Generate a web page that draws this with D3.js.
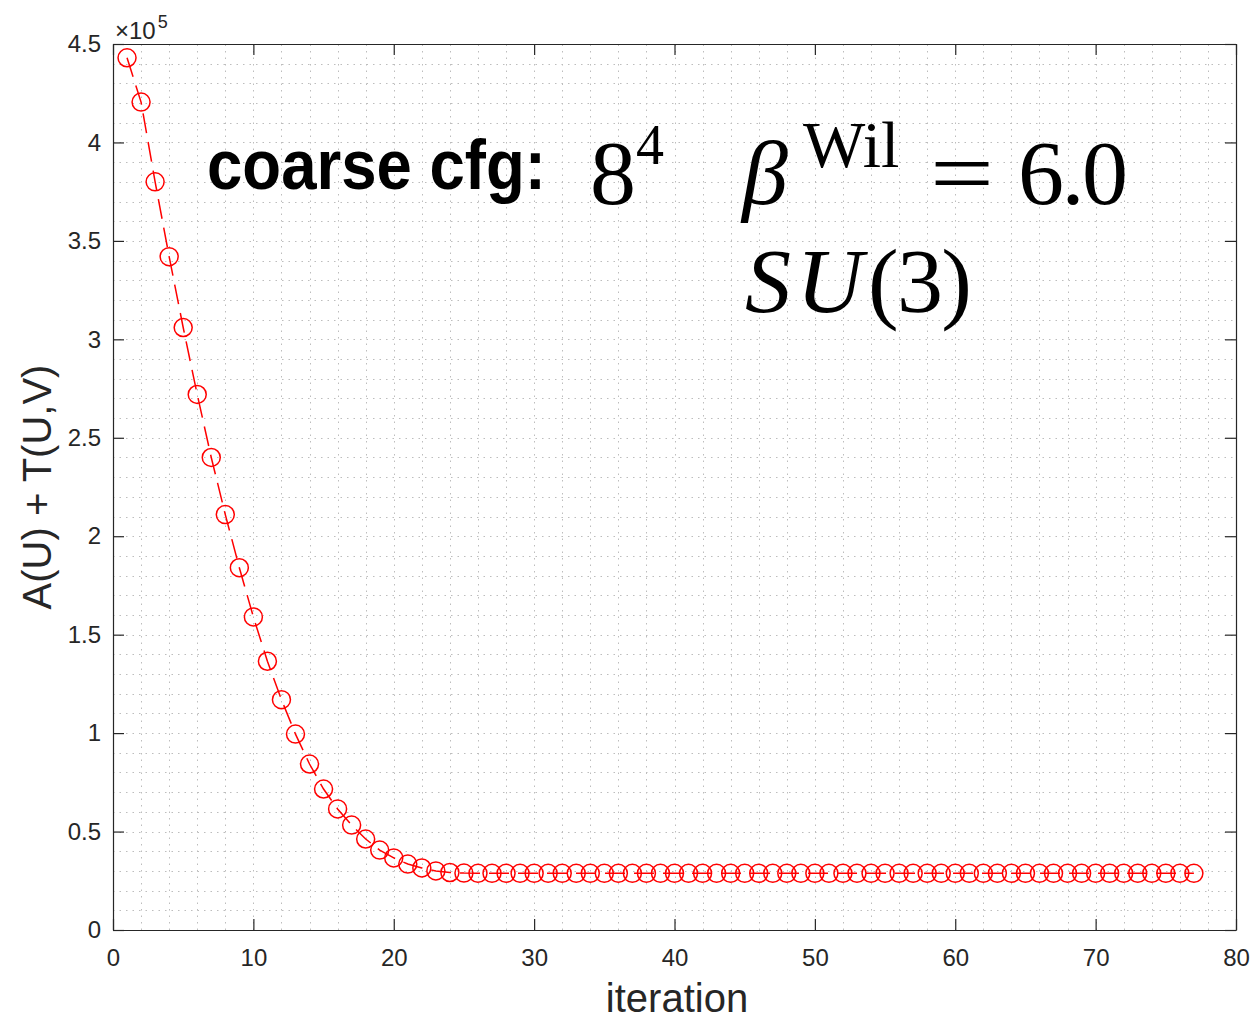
<!DOCTYPE html>
<html>
<head>
<meta charset="utf-8">
<script src="https://cdn.jsdelivr.net/npm/d3@7"></script>
<style>
  html, body { margin: 0; padding: 0; background: #fff; }
  svg { display: block; }
</style>
</head>
<body>
<svg id="chart" width="1252" height="1022"></svg>
<script>
// ---------------------------------------------------------------------------
// data: objective A(U)+T(U,V) per iteration (iteration = index + 1)
// ---------------------------------------------------------------------------
const objective = [
    443000, 420500, 380000, 342000, 306000, 272000, 240000, 211000, 184000, 159000,
    136500, 117000, 99500, 84300, 71600, 61500, 53300, 46200, 40600, 36600,
    33500, 31500, 30000, 29200, 28900, 28800, 28800, 28800, 28800, 28800,
    28800, 28800, 28800, 28800, 28800, 28800, 28800, 28800, 28800, 28800,
    28800, 28800, 28800, 28800, 28800, 28800, 28800, 28800, 28800, 28800,
    28800, 28800, 28800, 28800, 28800, 28800, 28800, 28800, 28800, 28800,
    28800, 28800, 28800, 28800, 28800, 28800, 28800, 28800, 28800, 28800,
    28800, 28800, 28800, 28800, 28800, 28800, 28800
];
const xTicks = [0, 10, 20, 30, 40, 50, 60, 70, 80];
const xMinorTicks = [2, 4, 6, 8, 12, 14, 16, 18, 22, 24, 26, 28, 32, 34, 36, 38, 42, 44, 46, 48,
    52, 54, 56, 58, 62, 64, 66, 68, 72, 74, 76, 78];
const yTicks = [0, 0.5, 1, 1.5, 2, 2.5, 3, 3.5, 4, 4.5];
const yTickLabels = ['0', '0.5', '1', '1.5', '2', '2.5', '3', '3.5', '4', '4.5'];
const yMinorTicks = [0.1, 0.2, 0.3, 0.4, 0.6, 0.7, 0.8, 0.9, 1.1, 1.2, 1.3, 1.4, 1.6, 1.7, 1.8, 1.9,
    2.1, 2.2, 2.3, 2.4, 2.6, 2.7, 2.8, 2.9, 3.1, 3.2, 3.3, 3.4, 3.6, 3.7, 3.8, 3.9, 4.1, 4.2, 4.3, 4.4];
const yScaleExp = 1e5;

const AXIS = '#262626';
const RED = '#ff0000';
const SANS = "'Liberation Sans', Arial, Helvetica, sans-serif";
const SERIF = "'Liberation Serif', 'Times New Roman', serif";

const svg = d3.select('#chart');
const plotL = 113, plotR = 1236, plotT = 44, plotB = 930;

const x = d3.scaleLinear().domain([0, 80]).range([plotL, plotR]);
const y = d3.scaleLinear().domain([0, 4.5]).range([plotB, plotT]);

// grid (minor + major, dotted)
const grid = svg.append('g')
    .attr('stroke', '#bdbdbd')
    .attr('stroke-width', 1)
    .attr('stroke-dasharray', '1.5,5');
grid.selectAll('.gx')
    .data(xTicks.slice(1, -1).concat(xMinorTicks))
    .join('line')
    .attr('x1', d => Math.round(x(d)) + 0.5).attr('x2', d => Math.round(x(d)) + 0.5)
    .attr('y1', plotB).attr('y2', plotT);
grid.selectAll('.gy')
    .data(yTicks.slice(1, -1).concat(yMinorTicks))
    .join('line')
    .attr('y1', d => Math.round(y(d)) + 0.5).attr('y2', d => Math.round(y(d)) + 0.5)
    .attr('x1', plotL).attr('x2', plotR);

// axes
const tickLen = 11;
const xAxisB = d3.axisBottom(x).tickValues(xTicks).tickSizeInner(-tickLen).tickSizeOuter(0).tickPadding(19);
const xAxisT = d3.axisTop(x).tickValues(xTicks).tickSizeInner(-tickLen).tickSizeOuter(0).tickFormat('');
const yAxisL = d3.axisLeft(y).tickValues(yTicks).tickSizeInner(-tickLen).tickSizeOuter(0).tickPadding(12)
    .tickFormat((d, i) => yTickLabels[i]);
const yAxisR = d3.axisRight(y).tickValues(yTicks).tickSizeInner(-tickLen).tickSizeOuter(0).tickFormat('');

function styleAxis(sel) {
    sel.select('.domain').attr('stroke', AXIS).attr('stroke-width', 1.2);
    sel.selectAll('.tick line').attr('stroke', AXIS).attr('stroke-width', 1.2);
    sel.selectAll('.tick text').attr('fill', AXIS).style('font-family', SANS).style('font-size', '24px');
}
svg.append('g').attr('transform', `translate(0,${plotB})`).call(xAxisB).call(styleAxis);
svg.append('g').attr('transform', `translate(0,${plotT})`).call(xAxisT).call(styleAxis);
svg.append('g').attr('transform', `translate(${plotL},0)`).call(yAxisL).call(styleAxis);
svg.append('g').attr('transform', `translate(${plotR},0)`).call(yAxisR).call(styleAxis);

// exponent label
const expo = svg.append('text')
    .attr('x', 115).attr('y', 39)
    .attr('fill', AXIS)
    .style('font-family', SANS).style('font-size', '24px');
expo.append('tspan').text('×10');
expo.append('tspan').attr('dy', -11).attr('dx', 2).style('font-size', '18px').text(String(Math.log10(yScaleExp)));

// axis labels
svg.append('text')
    .attr('x', 677).attr('y', 1012)
    .attr('text-anchor', 'middle')
    .attr('fill', AXIS)
    .style('font-family', SANS).style('font-size', '40px')
    .text('iteration');
svg.append('text')
    .attr('transform', `translate(51,${(plotT + plotB) / 2}) rotate(-90)`)
    .attr('text-anchor', 'middle')
    .attr('fill', AXIS)
    .style('font-family', SANS).style('font-size', '40px')
    .text('A(U) + T(U,V)');

// series
const pts = objective.map((v, i) => ({ it: i + 1, v: v / yScaleExp }));
svg.append('path')
    .datum(pts)
    .attr('fill', 'none')
    .attr('stroke', RED)
    .attr('stroke-width', 1.5)
    .attr('stroke-dasharray', '20,9')
    .attr('d', d3.line().x(d => x(d.it)).y(d => y(d.v)));
svg.append('g').selectAll('circle')
    .data(pts)
    .join('circle')
    .attr('cx', d => x(d.it)).attr('cy', d => y(d.v))
    .attr('r', 9)
    .attr('fill', 'none')
    .attr('stroke', RED)
    .attr('stroke-width', 1.5);

// annotation
svg.append('text')
    .attr('x', 207).attr('y', 189)
    .attr('textLength', 339).attr('lengthAdjust', 'spacingAndGlyphs')
    .style('font-family', SANS).style('font-weight', 'bold').style('font-size', '70px')
    .text('coarse cfg:');

const m1 = svg.append('text')
    .attr('y', 204)
    .style('font-family', SERIF).style('font-size', '92px');
m1.append('tspan').attr('x', 590).text('8');
m1.append('tspan').attr('x', 636).attr('dy', -40).style('font-size', '56px').text('4');

const m2 = svg.append('text')
    .attr('y', 204)
    .style('font-family', SERIF).style('font-size', '92px');
m2.append('tspan').attr('x', 742).style('font-style', 'italic').text('β');
m2.append('tspan').attr('x', 803).attr('dy', -37).style('font-size', '66px').text('Wil');
m2.append('tspan').attr('x', 930).attr('dy', 37).attr('textLength', 64).attr('lengthAdjust', 'spacingAndGlyphs').text('=');
m2.append('tspan').attr('x', 1018).attr('textLength', 110).text('6.0');

const m3 = svg.append('text')
    .attr('y', 312)
    .style('font-family', SERIF).style('font-size', '92px');
m3.append('tspan').attr('x', 745).style('font-style', 'italic').attr('textLength', 118).text('SU');
m3.append('tspan').attr('x', 868).attr('textLength', 104).text('(3)');
</script>
</body>
</html>
